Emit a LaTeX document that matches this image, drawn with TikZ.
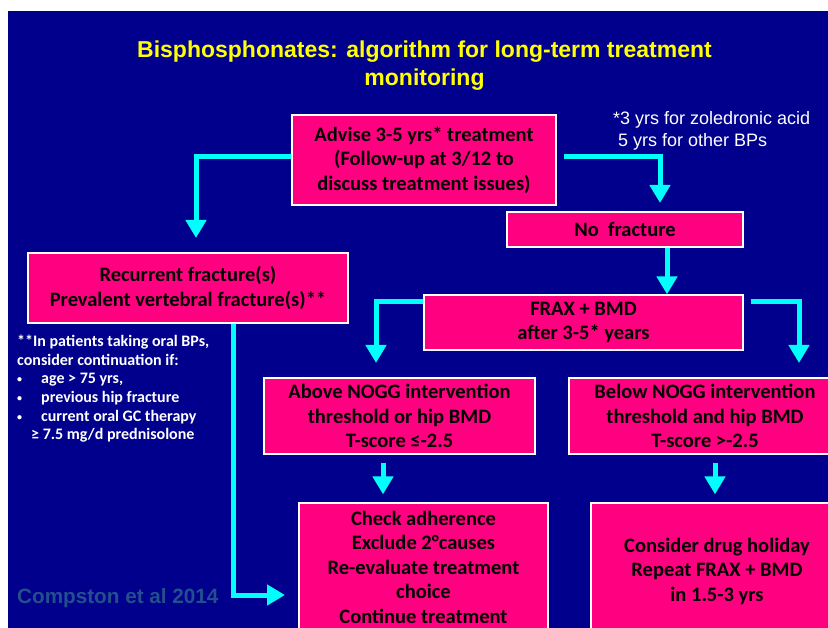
\documentclass[tikz,border=0pt]{standalone}
\usepackage{fontspec}
\usetikzlibrary{arrows.meta}
\newfontfamily\carlito{Carlito}
\newfontfamily\arialf{Liberation Sans}
\definecolor{navybg}{RGB}{0,0,140}
\definecolor{pinkbox}{RGB}{255,0,128}
\definecolor{cyanarr}{RGB}{0,255,255}
\definecolor{yellowt}{RGB}{255,255,0}
\definecolor{citec}{RGB}{35,80,140}
\newcommand{\mybul}{\makebox[24pt][l]{\raisebox{1pt}{\fontsize{10}{10}\selectfont •}}}
\begin{document}
\begin{tikzpicture}[x=1pt,y=-1pt,
  box/.style={draw=white,line width=1.2pt,fill=pinkbox,inner sep=0pt,align=center,text=black,
    font=\carlito\bfseries\fontsize{20.5}{24.5}\selectfont},
  arr/.style={draw=cyanarr,line width=5pt,line join=miter,-{Triangle[width=20pt,length=18pt]}},
  notetext/.style={text=white,inner sep=0pt,align=left}]
\useasboundingbox (0,0) rectangle (828,628);
\clip (0,0) rectangle (828,628);
\fill[white] (0,0) rectangle (828,628);
\fill[navybg] (8,11) rectangle (828,628);

% title
\node[font=\arialf\bfseries\fontsize{23}{28}\selectfont,text=yellowt,align=center,inner sep=0pt] (title) at (424.5,66)
  {Bisphosphonates: algorithm for long-term treatment\\monitoring};

% footnote on years
\node[notetext,anchor=north west,font=\arialf\fontsize{18}{22}\selectfont] (yrs) at (613,111)
  {*3 yrs for zoledronic acid\\\hspace*{5pt}5 yrs for other BPs};

% boxes
\node[box,minimum width=264pt,minimum height=90pt] (adv) at (424,160)
  {Advise 3-5 yrs* treatment\\(Follow-up at 3/12 to\\discuss treatment issues)};
\node[box,minimum width=236pt,minimum height=35pt] (nofx) at (625,229.5) {No\ \ fracture};
\node[box,minimum width=319pt,minimum height=55pt] (frax) at (583.5,322.5) {FRAX + BMD\\after 3-5* years};
\node[box,minimum width=320pt,minimum height=70pt] (rec) at (188,288)
  {Recurrent fracture(s)\\Prevalent vertebral fracture(s)**};
\node[box,minimum width=271pt,minimum height=76pt] (above) at (399.5,416)
  {Above NOGG intervention\\threshold or hip BMD\\T-score ≤-2.5};
\node[box,minimum width=272pt,minimum height=76pt] (below) at (705,416)
  {Below NOGG intervention\\threshold and hip BMD\\T-score >-2.5};
\node[box,minimum width=249pt,minimum height=128pt] (check) at (423.5,567)
  {Check adherence\\Exclude 2°causes\\Re-evaluate treatment\\choice\\Continue treatment};
\node[box,minimum width=252pt,minimum height=136pt] (consider) at (717,571)
  {Consider drug holiday\\Repeat FRAX + BMD\\in 1.5-3 yrs};

% left note
\node[notetext,anchor=north west,font=\carlito\bfseries\fontsize{16}{18.6}\selectfont] (note) at (17,335)
  {**In patients taking oral BPs,\\consider continuation if:\\
   \mybul age > 75 yrs,\\
   \mybul previous hip fracture\\
   \mybul current oral GC therapy\\
   \hspace*{14pt}≥ 7.5 mg/d prednisolone};

% citation
\node[anchor=base west,inner sep=0pt,text=citec,font=\arialf\bfseries\fontsize{20.7}{24}\selectfont] (cite) at (17,603)
  {Compston et al 2014};

% connectors
\coordinate (t1) at (196,238);
\coordinate (t2) at (660,203);
\coordinate (t4) at (376,363);
\coordinate (t5) at (799,363);
\coordinate (t6) at (285,595);
\draw[arr] (adv.west |- 0,157) -| (t1);
\draw[arr] ([xshift=7pt]adv.east |- 0,157) -| (t2);
\draw[arr] (nofx.south -| 667,0) -- (frax.north -| 667,0);
\draw[arr] (frax.west |- 0,302) -| (t4);
\draw[arr] ([xshift=7pt]frax.east |- 0,302) -| (t5);
\draw[arr] (rec.south -| 233.5,0) |- (t6);
\draw[arr] ([yshift=-8pt]above.south -| 383,0) -- ([yshift=8pt]check.north -| 383,0);
\draw[arr] ([yshift=-8pt]below.south -| 715,0) -- ([yshift=8pt]consider.north -| 715,0);
\end{tikzpicture}
\end{document}
